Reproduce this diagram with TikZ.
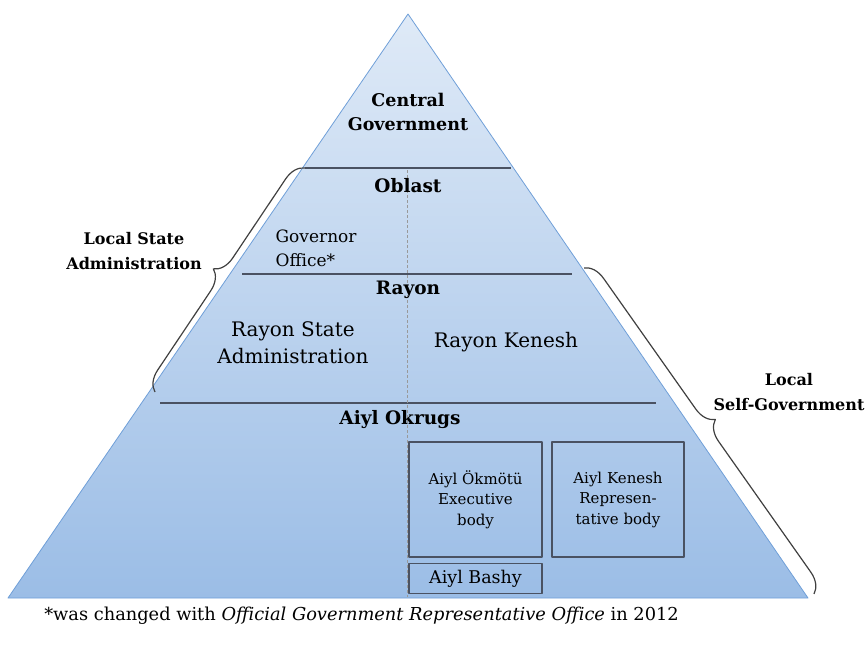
\documentclass[tikz,border=0pt]{standalone}
\usepackage{fontspec}
\setmainfont{DejaVu Serif}
\usetikzlibrary{decorations.pathreplacing}

\definecolor{pyrtop}{HTML}{DFEAF7}
\definecolor{pyrbot}{HTML}{9BBDE6}
\definecolor{pyredge}{HTML}{6F9FD8}
\definecolor{divline}{HTML}{4A5262}

\begin{document}
\begin{tikzpicture}[
            x = 1pt, y = -1pt, % one unit per pixel, y running down
            line join = round,
            semithick % line style
        ]

        \tikzstyle{level}=[
            font = \fontsize{18.5}{24}\selectfont\bfseries,
            align = center
        ]
        \tikzstyle{branch}=[
            font = \fontsize{20}{27}\selectfont,
            align = center
        ]
        \tikzstyle{body}=[
            draw = divline,
            line width = 1.4pt,
            font = \fontsize{15}{20.5}\selectfont,
            align = center,
            inner sep = 0pt
        ]
        \tikzstyle{side}=[
            font = \fontsize{16}{25.5}\selectfont\bfseries,
            align = center
        ]
        \tikzstyle{divider}=[
            draw = divline,
            line width = 1.6pt
        ]
        \tikzstyle{curly}=[
            decorate,
            decoration = {brace, amplitude = 20pt},
            draw = black!75,
            line width = 1.2pt
        ]

	\useasboundingbox (0,0) rectangle (866,651);

	% pyramid
	\coordinate (apex) at (408,14);
	\coordinate (bl) at (8,598);
	\coordinate (br) at (808,598);
	\shade[top color = pyrtop, bottom color = pyrbot] (apex) -- (bl) -- (br) -- cycle;
	\draw[pyredge, thick] (apex) -- (bl) -- (br) -- cycle;

	% dividers
	\draw[divider] (305,168) -- (511,168);
	\draw[divider] (242,274) -- (572,274);
	\draw[divider] (160,403) -- (656,403);
	\draw[black!40, densely dashed, thin] (407,170) -- (407,597);

	% levels
	\node[level, font = \fontsize{17.5}{24}\selectfont\bfseries] (central) at (408,112) {Central\\Government};
	\node[level] (oblast) at (408,186) {Oblast};
	\node[branch, align = left, anchor = west,
	      font = \fontsize{17}{24}\selectfont] (governor) at (272,248) {Governor\\Office*};
	\node[level] (rayon) at (408,290) {Rayon};
	\node[branch] (rsa) at (293,343) {Rayon State\\Administration};
	\node[branch] (rkenesh) at (506,342) {Rayon Kenesh};
	\node[level] (okrugs) at (400,420) {Aiyl Okrugs};

	% aiyl bodies
	\node[body, minimum width = 133, minimum height = 115] (okmotu) at (475.5,499.5) {Aiyl Ökmötü\\Executive\\body};
	\node[body, minimum width = 132, minimum height = 115] (akenesh) at (618,499.5) {Aiyl Kenesh\\Represen-\\tative body};
	\node[body, minimum width = 133, minimum height = 30,
	      font = \fontsize{17.5}{20}\selectfont] (bashy) at (475.5,578.5) {Aiyl Bashy};

	% braces
	\coordinate (lsa top) at (305,168);
	\coordinate (lsa bot) at (155,392);
	\coordinate (lsg top) at (584,268);
	\coordinate (lsg bot) at (814,594);
	\draw[curly] (lsa bot) -- (lsa top);
	\draw[curly] (lsg top) -- (lsg bot);

	\node[side] (lsa) at (134,251) {Local State\\Administration};
	\node[side] (lsg) at (789,392) {Local\\Self-Government};

	% footnote
	\node[anchor = west, inner sep = 0pt,
	      font = \fontsize{17.8}{20}\selectfont] (note) at (44,616)
	    {*was changed with \textit{Official Government Representative Office} in 2012};

    \end{tikzpicture}
\end{document}
